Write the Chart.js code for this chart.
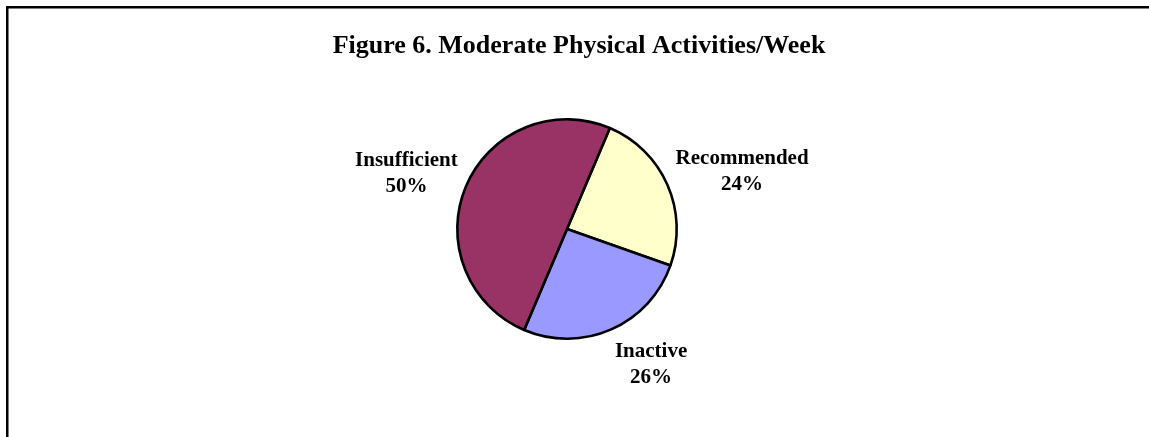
<!DOCTYPE html>
<html>
<head>
<meta charset="utf-8">
<script src="https://cdn.jsdelivr.net/npm/chart.js@4/dist/chart.umd.min.js"></script>
<style>
  html, body { margin: 0; padding: 0; background: #ffffff; }
  canvas { display: block; }
</style>
</head>
<body>
<canvas id="c" width="1149" height="437"></canvas>
<script>
// ---- data ----
const titleText = 'Figure 6. Moderate Physical Activities/Week';
const categories = ['Recommended', 'Inactive', 'Insufficient'];
const percentValues = [24, 26, 50];
const sliceColors = ['#FFFFCC', '#9999FF', '#993366'];

const labelFont = 'bold 21px "Liberation Serif", "Times New Roman", serif';
const titleFont = 'bold 26px "Liberation Serif", "Times New Roman", serif';

const framePlugin = {
  id: 'frame',
  beforeDraw(chart) {
    const ctx = chart.ctx;
    ctx.save();
    ctx.fillStyle = '#ffffff';
    ctx.fillRect(0, 0, chart.width, chart.height);
    ctx.fillStyle = '#000000';
    ctx.fillRect(6, 6, chart.width, 2.5);
    ctx.fillRect(6, 6, 2.5, chart.height);
    // title
    ctx.font = titleFont;
    ctx.textAlign = 'center';
    ctx.textBaseline = 'alphabetic';
    ctx.fillText(titleText, 579, 53);
    ctx.restore();
  }
};

const outsideLabels = {
  id: 'outsideLabels',
  afterDatasetsDraw(chart) {
    const ctx = chart.ctx;
    const meta = chart.getDatasetMeta(0);
    ctx.save();
    ctx.font = labelFont;
    ctx.fillStyle = '#000000';
    ctx.textAlign = 'center';
    ctx.textBaseline = 'alphabetic';
    meta.data.forEach((arc, i) => {
      const p = arc.getProps(['x', 'y', 'startAngle', 'endAngle', 'outerRadius'], true);
      const mid = (p.startAngle + p.endAngle) / 2;
      const dx = Math.cos(mid), dy = Math.sin(mid);
      const ax = p.x + dx * (p.outerRadius + 9);
      const ay = p.y + dy * (p.outerRadius + 9);
      const lines = [categories[i], percentValues[i] + '%'];
      const w = Math.max(...lines.map(t => ctx.measureText(t).width));
      const h = 56;
      const cx = ax + Math.sign(dx) * w / 2;
      const cy = ay + dy * h / 2;
      ctx.fillText(lines[0], cx, cy - 6);
      ctx.fillText(lines[1], cx, cy + 20);
    });
    ctx.restore();
  }
};

new Chart(document.getElementById('c'), {
  type: 'pie',
  data: {
    labels: categories,
    datasets: [{
      data: percentValues,
      backgroundColor: sliceColors,
      borderColor: '#000000',
      borderWidth: 2.6,
      hoverOffset: 0
    }]
  },
  options: {
    responsive: false,
    devicePixelRatio: 1,
    animation: false,
    rotation: 23,
    layout: { padding: { top: 118, bottom: 97, left: 300, right: 315 } },
    plugins: {
      legend: { display: false },
      tooltip: { enabled: false },
      title: { display: false }
    },
    events: []
  },
  plugins: [framePlugin, outsideLabels]
});
</script>
</body>
</html>
